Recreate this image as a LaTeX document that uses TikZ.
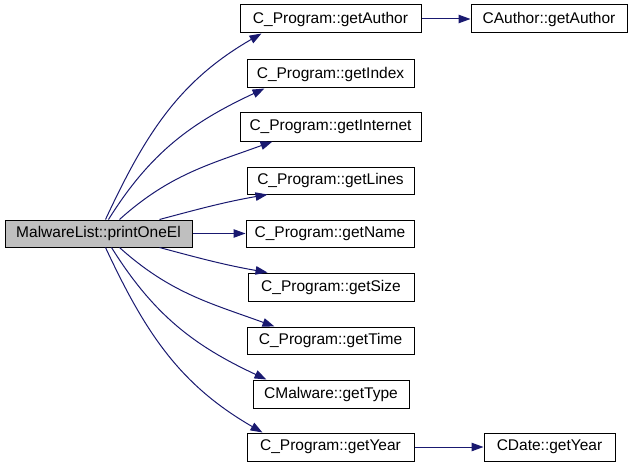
\documentclass[tikz,border=0pt]{standalone}
\usepackage{fontspec}
\setmainfont{Liberation Sans}
\usetikzlibrary{arrows.meta}
\definecolor{edgeblue}{HTML}{191970}
\definecolor{srcgray}{HTML}{BFBFBF}
\begin{document}
\begin{tikzpicture}[x=1pt,y=1pt,
  box/.style={draw=black,line width=1pt,fill=white,minimum height=28pt,inner sep=0pt,
    font=\fontsize{15.5}{18}\selectfont},
  srcbox/.style={box,fill=srcgray,minimum height=27pt},
  conn/.style={draw=edgeblue,line width=1pt,-{Triangle[length=12pt,width=8.5pt]}}]
\useasboundingbox (0,0) rectangle (632,467);
\node[srcbox,minimum width=187pt] (src) at (98.5,233.5) {MalwareList::printOneEl};
\node[box,minimum width=181pt] (author) at (330.5,448) {C\_Program::getAuthor};
\node[box,minimum width=156pt] (cauthor) at (549,448) {CAuthor::getAuthor};
\node[box,minimum width=167pt] (index) at (330.5,393) {C\_Program::getIndex};
\node[box,minimum width=181pt] (internet) at (330.5,340) {C\_Program::getInternet};
\node[box,minimum width=167pt,minimum height=27pt] (lines) at (330.5,286.5) {C\_Program::getLines};
\node[box,minimum width=168pt,minimum height=27pt] (name) at (330,233.5) {C\_Program::getName};
\node[box,minimum width=166pt] (size) at (331,180) {C\_Program::getSize};
\node[box,minimum width=167pt,minimum height=27pt] (time) at (330.5,126.5) {C\_Program::getTime};
\node[box,minimum width=156pt] (type) at (331,73) {CMalware::getType};
\node[box,minimum width=167pt] (year) at (330.5,20) {C\_Program::getYear};
\node[box,minimum width=131pt] (cdate) at (549.5,20) {CDate::getYear};

\draw[conn] ([xshift=101pt]src.north west) to[out=65,in=210] ([xshift=22pt]author.south west);
\draw[conn] ([xshift=104pt]src.north west) to[out=58,in=205] ([xshift=18pt]index.south west);
\draw[conn] ([xshift=115pt]src.north west) to[out=42,in=200] ([xshift=33pt]internet.south west);
\draw[conn] ([xshift=155pt]src.north west) to[out=15,in=190] ([xshift=21pt]lines.south west);
\draw[conn] (src.east) -- (name.west);
\draw[conn] ([xshift=155pt]src.south west) to[out=-15,in=170] ([xshift=20pt]size.north west);
\draw[conn] ([xshift=115pt]src.south west) to[out=-42,in=160] ([xshift=28pt]time.north west);
\draw[conn] ([xshift=107pt]src.south west) to[out=-58,in=155] ([xshift=14pt]type.north west);
\draw[conn] ([xshift=101pt]src.south west) to[out=-65,in=150] ([xshift=16pt]year.north west);
\draw[conn] (author.east) -- (cauthor.west);
\draw[conn] (year.east) -- (cdate.west);
\end{tikzpicture}
\end{document}
